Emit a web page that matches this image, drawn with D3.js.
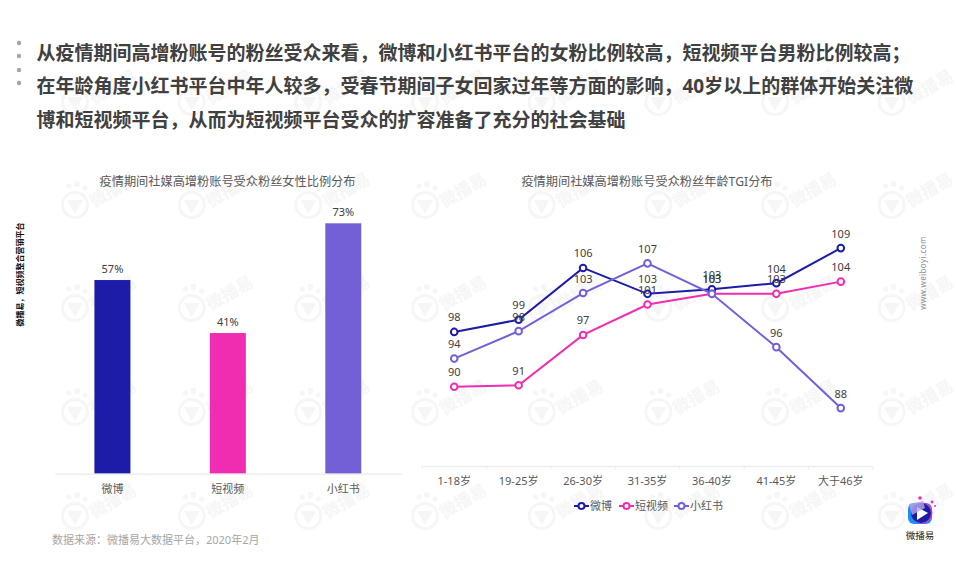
<!DOCTYPE html>
<html>
<head>
<meta charset="utf-8">
<script src="https://cdn.jsdelivr.net/npm/d3@7"></script>
<style>
    html, body { margin: 0; padding: 0; background: #fff; }
    svg { display: block; font-family: "Noto Sans", "Noto Sans CJK SC", sans-serif; }
</style>
</head>
<body>
<div id="chart"></div>
<script>
const headline = [
    "从疫情期间高增粉账号的粉丝受众来看，微博和小红书平台的女粉比例较高，短视频平台男粉比例较高；",
    "在年龄角度小红书平台中年人较多，受春节期间子女回家过年等方面的影响，40岁以上的群体开始关注微",
    "博和短视频平台，从而为短视频平台受众的扩容准备了充分的社会基础"
];

const platforms = ["微博", "短视频", "小红书"];
const femaleShare = [57.0, 41.4, 73.7];

const ageGroups = ["1-18岁", "19-25岁", "26-30岁", "31-35岁", "36-40岁", "41-45岁", "大于46岁"];
const tgiWeibo = [98.0, 99.6, 106.4, 103.0, 103.6, 104.4, 109.0];
const tgiShortVideo = [90.8, 91.0, 97.6, 101.6, 103.0, 103.0, 104.6];
const tgiRed = [94.5, 98.1, 103.1, 107.0, 103.0, 96.0, 88.0];

const colors = ["#1c1ca8", "#f02db0", "#7460d6"];
const width = 956;
const height = 568;

const svg = d3.select("#chart")
    .append("svg")
    .attr("width", width)
    .attr("height", height)
    .attr("viewBox", [0, 0, width, height]);

// watermark tiled under everything
const wmRows = [102, 205, 308, 412, 516];
const wmCols = d3.range(75, 900, 116.67);
const wm = svg.append("g");
wmRows.forEach(y => {
    wmCols.forEach(x => {
        const g = wm.append("g").attr("transform", `translate(${x},${y})`).attr("fill", "#f6f6f6");
        g.append("circle").attr("r", 12.5).attr("fill", "none").attr("stroke", "#f6f6f6").attr("stroke-width", 3);
        g.append("path").attr("d", "M-8,-5L8,-5L0,9Z");
        g.append("circle").attr("cx", -6).attr("cy", -19).attr("r", 2.6);
        g.append("circle").attr("cx", 2).attr("cy", -21).attr("r", 3);
        g.append("circle").attr("cx", 10).attr("cy", -17).attr("r", 2.6);
        g.append("text")
            .text("微播易")
            .attr("transform", "translate(38,-15) rotate(-30)")
            .attr("text-anchor", "middle")
            .attr("dy", ".35em")
            .attr("font-size", "17px")
            .attr("font-weight", "bold");
    });
});

// headline
svg.append("g")
    .selectAll("circle")
    .data([43, 56, 70, 83])
    .join("circle")
    .attr("cx", 19)
    .attr("cy", d => d)
    .attr("r", 2.2)
    .attr("fill", "#a6a6a6");

svg.append("g")
    .selectAll("text")
    .data(headline)
    .join("text")
    .text(d => d)
    .attr("x", 36.5)
    .attr("y", (d, i) => 59.5 + i * 33.5)
    .attr("font-size", "19px")
    .attr("font-weight", "bold")
    .attr("fill", "#404040");

function chartTitle(text, x) {
    svg.append("text")
        .text(text)
        .attr("x", x)
        .attr("y", 185.5)
        .attr("text-anchor", "middle")
        .attr("font-size", "12.2px")
        .attr("fill", "#595959");
}

function styleAxis(g) {
    g.selectAll(".domain").attr("stroke", "#eeeeee").attr("stroke-width", 1.5);
    g.selectAll("text")
        .attr("font-size", "11px")
        .attr("fill", "#595959")
        .attr("font-family", '"Noto Sans", "Noto Sans CJK SC", sans-serif');
}

// left: bars
chartTitle("疫情期间社媒高增粉账号受众粉丝女性比例分布", 227.5);

const barX = d3.scaleBand().domain(platforms).range([54.7, 401]);
const barY = d3.scaleLinear().domain([0, 80]).range([473.7, 201.9]);
const barWidth = 36;

svg.append("g")
    .selectAll("rect")
    .data(platforms)
    .join("rect")
    .attr("x", d => barX(d) + barX.bandwidth() / 2 - barWidth / 2)
    .attr("y", (d, i) => barY(femaleShare[i]))
    .attr("width", barWidth)
    .attr("height", (d, i) => barY(0) - barY(femaleShare[i]))
    .attr("fill", (d, i) => colors[i]);

svg.append("g")
    .selectAll("text")
    .data(platforms)
    .join("text")
    .text((d, i) => Math.floor(femaleShare[i]) + "%")
    .attr("x", d => barX(d) + barX.bandwidth() / 2)
    .attr("y", (d, i) => barY(femaleShare[i]) - 7)
    .attr("text-anchor", "middle")
    .attr("font-size", "11px")
    .attr("fill", "#404040");

svg.append("g")
    .attr("transform", `translate(0,${barY(0)})`)
    .call(d3.axisBottom(barX).tickSize(0).tickPadding(12))
    .call(styleAxis);

// right: lines
chartTitle("疫情期间社媒高增粉账号受众粉丝年龄TGI分布", 647);

const lineX = d3.scaleBand().domain(ageGroups).range([422, 873]);
const lineY = d3.scaleLinear().domain([80.4, 110]).range([466, 240.5]);
const cx = d => lineX(d) + lineX.bandwidth() / 2;

const lineAxis = svg.append("g")
    .attr("transform", `translate(0,${lineY.range()[0]})`)
    .call(d3.axisBottom(lineX).tickSize(0).tickPadding(11))
    .call(styleAxis);

lineAxis.append("g")
    .selectAll("line")
    .data(ageGroups.concat(null))
    .join("line")
    .attr("x1", d => d === null ? lineX.range()[1] : lineX(d))
    .attr("x2", d => d === null ? lineX.range()[1] : lineX(d))
    .attr("y2", 4)
    .attr("stroke", "#eeeeee");

const series = [tgiWeibo, tgiShortVideo, tgiRed];

const line = d3.line()
    .x((d, i) => cx(ageGroups[i]))
    .y(d => lineY(d));

series.forEach((values, s) => {
    const g = svg.append("g");

    g.append("path")
        .attr("d", line(values))
        .attr("fill", "none")
        .attr("stroke", colors[s])
        .attr("stroke-width", 2);

    g.selectAll("circle")
        .data(values)
        .join("circle")
        .attr("cx", (d, i) => cx(ageGroups[i]))
        .attr("cy", d => lineY(d))
        .attr("r", 3.3)
        .attr("fill", "#fff")
        .attr("stroke", colors[s])
        .attr("stroke-width", 2);
});

series.forEach(values => {
    svg.append("g")
        .selectAll("text")
        .data(values)
        .join("text")
        .text(d => Math.floor(d))
        .attr("x", (d, i) => cx(ageGroups[i]))
        .attr("y", d => lineY(d) - 10.5)
        .attr("text-anchor", "middle")
        .attr("font-size", "11px")
        .attr("fill", "#404040");
});

// legend
const legendX = [574, 619, 674];
const legend = svg.append("g")
    .selectAll("g")
    .data(platforms)
    .join("g")
    .attr("transform", (d, i) => `translate(${legendX[i]},506)`);

legend.append("line")
    .attr("x2", 15)
    .attr("stroke", (d, i) => colors[i])
    .attr("stroke-width", 2);

legend.append("circle")
    .attr("cx", 7.5)
    .attr("r", 3)
    .attr("fill", "#fff")
    .attr("stroke", (d, i) => colors[i])
    .attr("stroke-width", 2);

legend.append("text")
    .text(d => d)
    .attr("x", 16)
    .attr("dy", ".35em")
    .attr("font-size", "11px")
    .attr("fill", "#595959");

// side notes and source
svg.append("text")
    .text("数据来源：微播易大数据平台，2020年2月")
    .attr("x", 52)
    .attr("y", 544)
    .attr("font-size", "11px")
    .attr("fill", "#a6a6a6");

svg.append("text")
    .text("微播易，短视频整合营销平台")
    .attr("transform", "translate(20,274.5) rotate(-90)")
    .attr("text-anchor", "middle")
    .attr("dy", ".35em")
    .attr("font-size", "8px")
    .attr("font-weight", "bold")
    .attr("fill", "#111");

svg.append("text")
    .text("www.weiboyi.com")
    .attr("transform", "translate(923,273) rotate(-90)")
    .attr("text-anchor", "middle")
    .attr("dy", ".35em")
    .attr("font-size", "8px")
    .attr("letter-spacing", ".4px")
    .attr("fill", "#8c8c8c");

// logo
const logo = svg.append("g").attr("transform", "translate(920,513)");
logo.append("rect").attr("x", -12).attr("y", -10).attr("width", 24).attr("height", 21).attr("rx", 6).attr("fill", "#1e8cf5");
logo.append("circle").attr("cx", 2).attr("cy", 0).attr("r", 10.5).attr("fill", "#f02db0");
logo.append("circle").attr("cx", 1).attr("cy", 0).attr("r", 10).attr("fill", "#1c1ca8");
logo.append("path").attr("d", "M-3,-6L8,0L-3,7Z").attr("fill", "#fff");
logo.append("path").attr("d", "M-11,-9L3,-12L5,-5L-8,2Z").attr("fill", "#b9a6e8").attr("opacity", 0.8);
logo.append("circle").attr("cx", 0).attr("cy", -15).attr("r", 1.8).attr("fill", "#f02db0");
logo.append("circle").attr("cx", 12).attr("cy", -11).attr("r", 1.4).attr("fill", "#f02db0");
logo.append("circle").attr("cx", 15).attr("cy", -7).attr("r", 1).attr("fill", "#f02db0");

svg.append("text")
    .text("微播易")
    .attr("x", 920)
    .attr("y", 539)
    .attr("text-anchor", "middle")
    .attr("font-size", "9.5px")
    .attr("fill", "#222");
</script>
</body>
</html>
